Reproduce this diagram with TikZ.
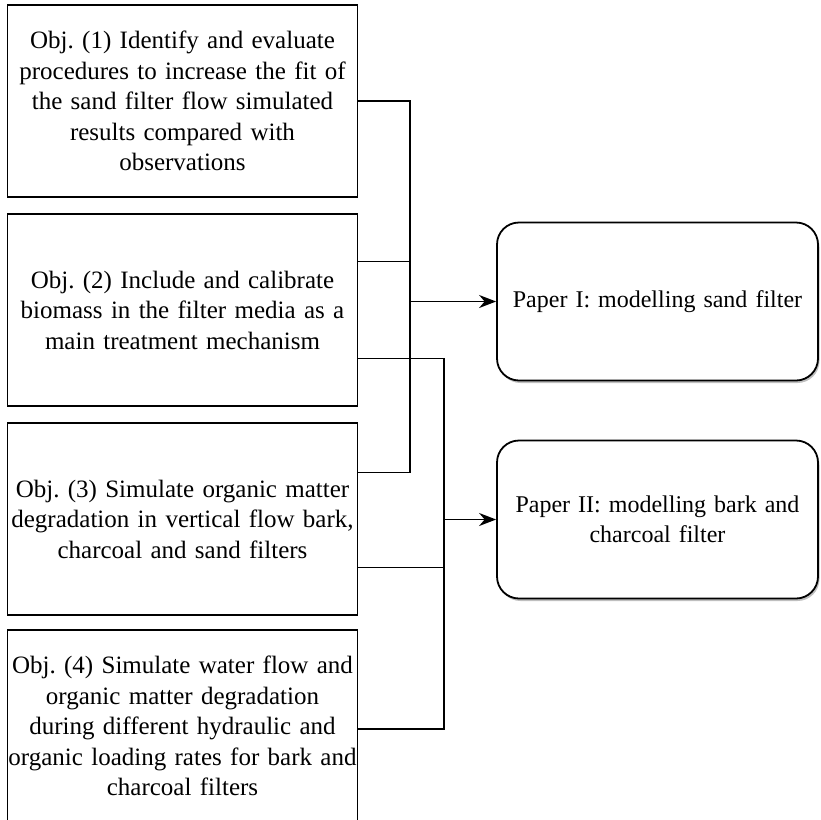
\documentclass[tikz,border=0pt]{standalone}
\usepackage{fontspec}
\setmainfont{Liberation Serif}
\frenchspacing
\usetikzlibrary{arrows.meta,shadows,calc}
\begin{document}
\begin{tikzpicture}[x=1pt,y=-1pt,
  objbox/.style={draw, line width=1.8pt, minimum width=350pt, minimum height=192pt,
    text width=350pt, align=center, inner sep=0pt,
    font=\fontsize{25pt}{30.5pt}\selectfont},
  paperbox/.style={draw, line width=1.8pt, rounded corners=22pt, minimum width=321pt,
    minimum height=158pt, text width=321pt, align=center, inner sep=0pt, fill=white,
    drop shadow={shadow xshift=1.5pt, shadow yshift=-2.5pt, fill=black!25, opacity=1},
    font=\fontsize{24pt}{29.5pt}\selectfont},
  conn/.style={line width=1.6pt},
  arr/.style={line width=1.8pt, -{Stealth[length=17pt,width=13pt]}}]
\useasboundingbox (0,0) rectangle (820,820);
\node[objbox] (b1) at (182.5,101) {Obj. (1) Identify and evaluate\\procedures to increase the fit of\\the sand filter flow simulated\\results compared with\\observations};
\node[objbox] (b2) at (182.5,310) {Obj. (2) Include and calibrate\\biomass in the filter media as a\\main treatment mechanism};
\node[objbox] (b3) at (182.5,519) {Obj. (3) Simulate organic matter\\degradation in vertical flow bark,\\charcoal and sand filters};
\node[objbox] (b4) at (182.5,726) {Obj. (4) Simulate water flow and\\organic matter degradation\\during different hydraulic and\\organic loading rates for bark and\\charcoal filters};
\node[paperbox] (p1) at (657.5,301.5) {Paper I: modelling sand filter};
\node[paperbox] (p2) at (657.5,519.5) {Paper II: modelling bark and\\charcoal filter};
\coordinate (j1) at (410,301.5);
\coordinate (j2) at (444,519.5);
\coordinate (b2a) at ($(b2.north east)!0.25!(b2.south east)$);
\coordinate (b2b) at ($(b2.north east)!0.75!(b2.south east)$);
\coordinate (b3a) at ($(b3.north east)!0.26!(b3.south east)$);
\coordinate (b3b) at ($(b3.north east)!0.75!(b3.south east)$);
\coordinate (b4a) at ($(b4.east)+(0,3)$);
\draw[conn] (b1.east) -| (j1);
\draw[conn] (b2a) -| (j1);
\draw[conn] (b3a) -| (j1);
\draw[conn] (b2b) -| (j2);
\draw[conn] (b3b) -| (j2);
\draw[conn] (b4a) -| (j2);
\draw[arr] (j1) -- (p1.west);
\draw[arr] (j2) -- (p2.west);
\end{tikzpicture}
\end{document}
